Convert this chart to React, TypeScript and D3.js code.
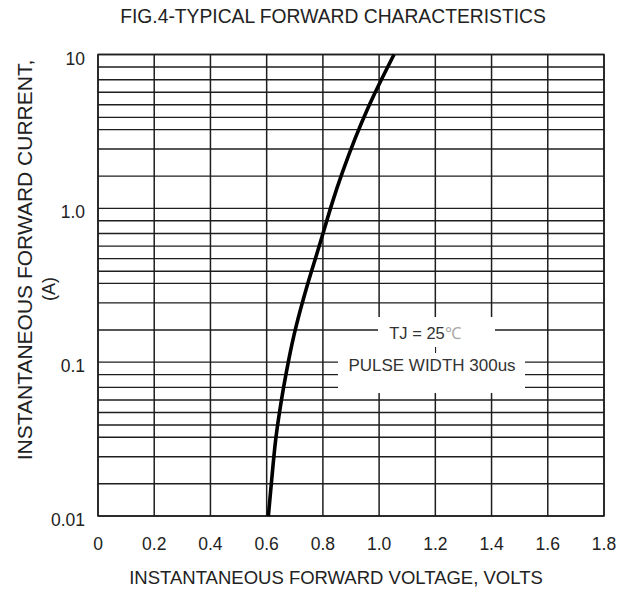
import React, { useRef, useEffect } from "react";
import * as d3 from "d3";

// Forward curve: [volts, amps]
const voltage = [0.606, 0.62, 0.631, 0.645, 0.66, 0.678, 0.7, 0.745, 0.772, 0.801, 0.832, 0.868, 0.916, 0.961, 1.007, 1.053];
const current = [0.01, 0.019, 0.0312, 0.0467, 0.0689, 0.103, 0.162, 0.322, 0.461, 0.691, 1.08, 1.7, 2.91, 4.56, 6.83, 10];

// Grid values
const xTicks = [0, 0.2, 0.4, 0.6, 0.8, 1.0, 1.2, 1.4, 1.6, 1.8];
const xTickLabels = ["0", "0.2", "0.4", "0.6", "0.8", "1.0", "1.2", "1.4", "1.6", "1.8"];
const decades = [0.01, 0.1, 1, 10];
const decadeLabels = ["0.01", "0.1", "1.0", "10"];
// the printed grid is not a true log grid, these are the in-between lines as drawn
const gridMultipliers = [8.3, 6.86, 5.68, 4.71, 3.9, 3.25, 2.43, 1.62];

const title = "FIG.4-TYPICAL FORWARD CHARACTERISTICS";
const xTitle = "INSTANTANEOUS FORWARD VOLTAGE, VOLTS";
const yTitle = "INSTANTANEOUS FORWARD CURRENT,";
const yUnit = "(A)";

function ForwardChart() {
    const svgRef = useRef(null);

    useEffect(() => {
        const w = 631;
        const h = 594;
        const svg = d3.select(svgRef.current);
        svg.selectAll("*").remove();
        svg.attr("width", w).attr("height", h);

        const font = "'Liberation Sans', Arial, sans-serif";

        const x = d3.scaleLinear().domain([0, 1.8]).range([98, 604]);
        const y = d3.scaleLog().domain([0.01, 10]).range([516, 54.5]);

        const stroke = "#1e1e1e";

        // horizontal grid lines
        const hLines = [];
        decades.slice(0, 3).forEach(d => gridMultipliers.forEach(m => hLines.push(d * m)));
        svg.append("g")
            .selectAll("line")
            .data(hLines.concat(decades))
            .join("line")
            .attr("x1", x(0)).attr("x2", x(1.8))
            .attr("y1", d => y(d)).attr("y2", d => y(d))
            .attr("stroke", stroke)
            .attr("stroke-width", 1.4);

        // vertical grid lines
        svg.append("g")
            .selectAll("line")
            .data(xTicks)
            .join("line")
            .attr("x1", d => x(d)).attr("x2", d => x(d))
            .attr("y1", y(0.01)).attr("y2", y(10))
            .attr("stroke", stroke)
            .attr("stroke-width", 1.5);

        // white patches behind the note
        svg.append("rect")
            .attr("x", 378).attr("y", 317)
            .attr("width", 117).attr("height", 30)
            .attr("fill", "#fff");
        svg.append("rect")
            .attr("x", 378).attr("y", 346)
            .attr("width", 57).attr("height", 8)
            .attr("fill", "#fff");
        svg.append("rect")
            .attr("x", 438).attr("y", 346)
            .attr("width", 57).attr("height", 8)
            .attr("fill", "#fff");
        svg.append("rect")
            .attr("x", 338).attr("y", 353)
            .attr("width", 187).attr("height", 40)
            .attr("fill", "#fff");

        // frame
        svg.append("rect")
            .attr("x", x(0)).attr("y", y(10))
            .attr("width", x(1.8) - x(0))
            .attr("height", y(0.01) - y(10))
            .attr("fill", "none")
            .attr("stroke", stroke)
            .attr("stroke-width", 1.5);

        // curve
        const pts = voltage.map((v, i) => [v, current[i]]);
        const line = d3.line()
            .x(d => x(d[0]))
            .y(d => y(d[1]))
            .curve(d3.curveBasis);
        svg.append("path")
            .datum(pts)
            .attr("d", line)
            .attr("fill", "none")
            .attr("stroke", "#000")
            .attr("stroke-width", 3.6);

        // tick labels
        svg.append("g")
            .selectAll("text")
            .data(xTicks)
            .join("text")
            .attr("x", d => x(d))
            .attr("y", 550)
            .attr("text-anchor", "middle")
            .attr("font-family", font)
            .attr("font-size", 17.5)
            .attr("fill", "#222")
            .text((d, i) => xTickLabels[i]);

        svg.append("g")
            .selectAll("text")
            .data(decades)
            .join("text")
            .attr("x", 85)
            .attr("y", d => y(d) + 10)
            .attr("text-anchor", "end")
            .attr("font-family", font)
            .attr("font-size", 17.5)
            .attr("fill", "#222")
            .text((d, i) => decadeLabels[i]);

        // titles
        svg.append("text")
            .attr("x", 333).attr("y", 23)
            .attr("text-anchor", "middle")
            .attr("font-family", font)
            .attr("font-size", 19.3)
            .attr("fill", "#222")
            .text(title);

        svg.append("text")
            .attr("x", 336).attr("y", 584)
            .attr("text-anchor", "middle")
            .attr("font-family", font)
            .attr("font-size", 18.5)
            .attr("fill", "#222")
            .text(xTitle);

        svg.append("text")
            .attr("transform", "translate(32,260) rotate(-90)")
            .attr("text-anchor", "middle")
            .attr("font-family", font)
            .attr("font-size", 21)
            .attr("fill", "#222")
            .text(yTitle);

        svg.append("text")
            .attr("transform", "translate(55,289) rotate(-90)")
            .attr("text-anchor", "middle")
            .attr("font-family", font)
            .attr("font-size", 18)
            .attr("fill", "#222")
            .text(yUnit);

        // note
        const tj = svg.append("text")
            .attr("x", 425).attr("y", 339)
            .attr("text-anchor", "middle")
            .attr("font-family", font)
            .attr("font-size", 16.5)
            .attr("fill", "#333");
        tj.append("tspan").text("TJ = 25");
        tj.append("tspan").attr("fill", "#aaa").text("℃");

        svg.append("text")
            .attr("x", 432).attr("y", 371)
            .attr("text-anchor", "middle")
            .attr("font-family", font)
            .attr("font-size", 17)
            .attr("fill", "#333")
            .text("PULSE WIDTH 300us");
    }, []);

    return (
        <svg ref={svgRef} style={{ position: "absolute", left: 0, top: 0, background: "#fff" }}></svg>
    );
}

export default function App() {
    return <ForwardChart />;
}
